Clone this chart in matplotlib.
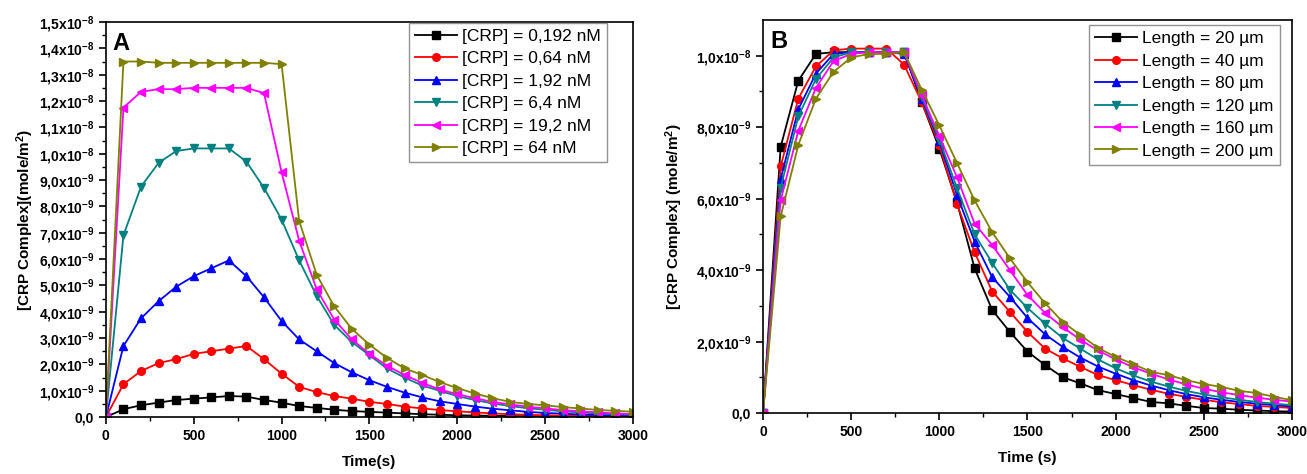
import numpy as np
import matplotlib.pyplot as plt
from matplotlib.ticker import FixedLocator, MultipleLocator, FuncFormatter

plt.rcParams['font.family'] = ['Liberation Sans', 'DejaVu Sans']
plt.rcParams['mathtext.default'] = 'regular'

# =========================
# DATOS (valores en 1e-9 mole/m2)
# =========================
time_s = list(range(0, 3001, 100))

labels_a = ["[CRP] = 0,192 nM", "[CRP] = 0,64 nM", "[CRP] = 1,92 nM",
            "[CRP] = 6,4 nM", "[CRP] = 19,2 nM", "[CRP] = 64 nM"]

crp_0192 = [0, 0.3, 0.45, 0.55, 0.65, 0.7, 0.75, 0.8, 0.78, 0.65, 0.55,
            0.42, 0.35, 0.28, 0.23, 0.2, 0.17, 0.14, 0.11, 0.09, 0.07,
            0.06, 0.05, 0.04, 0.035, 0.03, 0.025, 0.02, 0.02, 0.015, 0.015]
crp_064 = [0, 1.25, 1.75, 2.05, 2.2, 2.4, 2.5, 2.6, 2.7, 2.2, 1.65,
           1.15, 0.95, 0.8, 0.7, 0.58, 0.5, 0.4, 0.33, 0.27, 0.22,
           0.18, 0.14, 0.11, 0.09, 0.07, 0.06, 0.05, 0.04, 0.03, 0.03]
crp_192 = [0, 2.7, 3.75, 4.4, 4.95, 5.35, 5.65, 5.95, 5.35, 4.55, 3.65,
           2.95, 2.5, 2.05, 1.7, 1.4, 1.15, 0.93, 0.75, 0.6, 0.5,
           0.4, 0.32, 0.26, 0.2, 0.16, 0.13, 0.1, 0.08, 0.07, 0.05]
crp_64 = [0, 6.9, 8.75, 9.65, 10.1, 10.2, 10.2, 10.2, 9.7, 8.7, 7.5,
          5.95, 4.6, 3.5, 2.85, 2.35, 1.85, 1.5, 1.2, 1.0, 0.8,
          0.65, 0.52, 0.42, 0.34, 0.28, 0.22, 0.18, 0.14, 0.11, 0.09]
crp_192n = [0, 11.75, 12.35, 12.45, 12.45, 12.5, 12.5, 12.5, 12.5, 12.3, 9.3,
            6.7, 4.85, 3.7, 2.95, 2.4, 1.95, 1.6, 1.3, 1.05, 0.87,
            0.72, 0.58, 0.48, 0.4, 0.33, 0.27, 0.22, 0.18, 0.14, 0.11]
crp_640 = [0, 13.5, 13.5, 13.45, 13.45, 13.45, 13.45, 13.45, 13.45, 13.45, 13.4,
           7.45, 5.4, 4.2, 3.35, 2.75, 2.25, 1.85, 1.6, 1.33, 1.1,
           0.9, 0.72, 0.58, 0.5, 0.45, 0.38, 0.33, 0.27, 0.24, 0.2]

labels_b = ["Length = 20 µm", "Length = 40 µm", "Length = 80 µm",
            "Length = 120 µm", "Length = 160 µm", "Length = 200 µm"]

len_20 = [0, 7.45, 9.3, 10.05, 10.1, 10.1, 10.1, 10.1, 10.1, 8.7, 7.4,
          5.9, 4.05, 2.88, 2.27, 1.72, 1.34, 1.0, 0.83, 0.64, 0.53,
          0.42, 0.31, 0.27, 0.2, 0.14, 0.12, 0.09, 0.07, 0.05, 0.04]
len_40 = [0, 6.9, 8.8, 9.7, 10.15, 10.2, 10.2, 10.2, 9.75, 8.7, 7.5,
          5.85, 4.5, 3.4, 2.83, 2.27, 1.8, 1.53, 1.29, 1.06, 0.92,
          0.78, 0.65, 0.54, 0.45, 0.37, 0.3, 0.25, 0.2, 0.17, 0.14]
len_80 = [0, 6.55, 8.5, 9.5, 10.05, 10.1, 10.1, 10.1, 10.05, 8.8, 7.6,
          6.1, 4.8, 3.8, 3.25, 2.66, 2.2, 1.85, 1.55, 1.3, 1.1,
          0.92, 0.77, 0.64, 0.53, 0.44, 0.37, 0.31, 0.26, 0.22, 0.18]
len_120 = [0, 6.3, 8.3, 9.35, 9.95, 10.1, 10.1, 10.1, 10.1, 8.85, 7.65,
           6.3, 5.0, 4.2, 3.45, 2.94, 2.5, 2.1, 1.8, 1.5, 1.25,
           1.05, 0.88, 0.74, 0.62, 0.52, 0.44, 0.37, 0.31, 0.26, 0.22]
len_160 = [0, 5.95, 7.9, 9.1, 9.85, 10.05, 10.1, 10.1, 10.1, 8.9, 7.75,
           6.6, 5.3, 4.7, 4.0, 3.3, 2.8, 2.4, 2.05, 1.75, 1.5,
           1.28, 1.1, 0.94, 0.8, 0.68, 0.58, 0.5, 0.43, 0.37, 0.32]
len_200 = [0, 5.5, 7.5, 8.8, 9.55, 9.95, 10.05, 10.05, 10.1, 9.05, 8.05,
           7.0, 5.95, 5.06, 4.33, 3.66, 3.07, 2.55, 2.18, 1.82, 1.57,
           1.37, 1.15, 1.06, 0.92, 0.81, 0.73, 0.62, 0.56, 0.45, 0.36]

colores = ["#000000", "#FF0000", "#0000FF", "#008080", "#FF00FF", "#808000"]
marcas = ["s", "o", "^", "v", "<", ">"]


def fmt_sci(v, pos):
    if abs(v) < 1e-12:
        return "0,0"
    exp = int(np.floor(np.log10(v) + 1e-9))
    man = v / 10 ** exp
    return f"{man:.1f}".replace(".", ",") + "x10$^{" + str(exp) + "}$"


def estilo(ax):
    ax.tick_params(which="both", direction="out", top=False, right=False)
    ax.tick_params(which="major", length=5, width=1.2, labelsize=10)
    ax.tick_params(which="minor", length=3, width=1.0)
    for s in ax.spines.values():
        s.set_linewidth(1.2)
    for lab in ax.get_xticklabels() + ax.get_yticklabels():
        lab.set_fontweight("bold")
    ax.xaxis.set_major_locator(MultipleLocator(500))
    ax.xaxis.set_minor_locator(MultipleLocator(250))
    ax.set_xlim(0, 3000)


def leyenda(ax, anchor):
    leg = ax.legend(loc="upper right", bbox_to_anchor=anchor, fontsize=12.5,
                    frameon=True, fancybox=False, edgecolor="#777777",
                    handlelength=2.4, labelspacing=0.42, borderpad=0.35,
                    handletextpad=0.3, borderaxespad=0)
    leg.get_frame().set_linewidth(1.0)


fig = plt.figure(figsize=(13.07, 4.74), dpi=100)

# =========================
# PANEL A
# =========================
ax1 = fig.add_axes([0.081, 0.12, 0.4033, 0.8336])
series_a = [crp_0192, crp_064, crp_192, crp_64, crp_192n, crp_640]
for ys, c, m, lab in zip(series_a, colores, marcas, labels_a):
    ax1.plot(time_s, np.array(ys) * 1e-9, color=c, marker=m, ms=5.5, lw=1.3, label=lab)

ax1.set_ylim(0, 1.5e-8)
ax1.yaxis.set_major_locator(FixedLocator(np.arange(0, 16) * 1e-9))
ax1.yaxis.set_minor_locator(FixedLocator(np.arange(0.5, 15, 1) * 1e-9))
ax1.yaxis.set_major_formatter(FuncFormatter(fmt_sci))
estilo(ax1)
ax1.set_xlabel("Time(s)", fontsize=11, fontweight="bold", labelpad=9)
ax1.set_ylabel("[CRP Complex](mole/m$^2$)", fontsize=11, fontweight="bold", labelpad=2)
ax1.text(0.013, 0.975, "A", transform=ax1.transAxes, fontsize=17, fontweight="bold",
         va="top", ha="left")
leyenda(ax1, (0.951, 0.998))

# =========================
# PANEL B
# =========================
ax2 = fig.add_axes([0.5838, 0.1287, 0.4047, 0.8291])
series_b = [len_20, len_40, len_80, len_120, len_160, len_200]
for ys, c, m, lab in zip(series_b, colores, marcas, labels_b):
    ax2.plot(time_s, np.array(ys) * 1e-9, color=c, marker=m, ms=5.5, lw=1.3, label=lab)

ax2.set_ylim(0, 1.1e-8)
ax2.yaxis.set_major_locator(FixedLocator(np.arange(0, 11, 2) * 1e-9))
ax2.yaxis.set_minor_locator(FixedLocator(np.arange(1, 11, 2) * 1e-9))
ax2.yaxis.set_major_formatter(FuncFormatter(fmt_sci))
estilo(ax2)
ax2.set_xlabel("Time (s)", fontsize=11, fontweight="bold", labelpad=9)
ax2.set_ylabel("[CRP Complex] (mole/m$^2$)", fontsize=11, fontweight="bold", labelpad=8)
ax2.text(0.013, 0.975, "B", transform=ax2.transAxes, fontsize=17, fontweight="bold",
         va="top", ha="left")
leyenda(ax2, (0.977, 0.987))

plt.savefig("out.png", dpi=100)
plt.close()
